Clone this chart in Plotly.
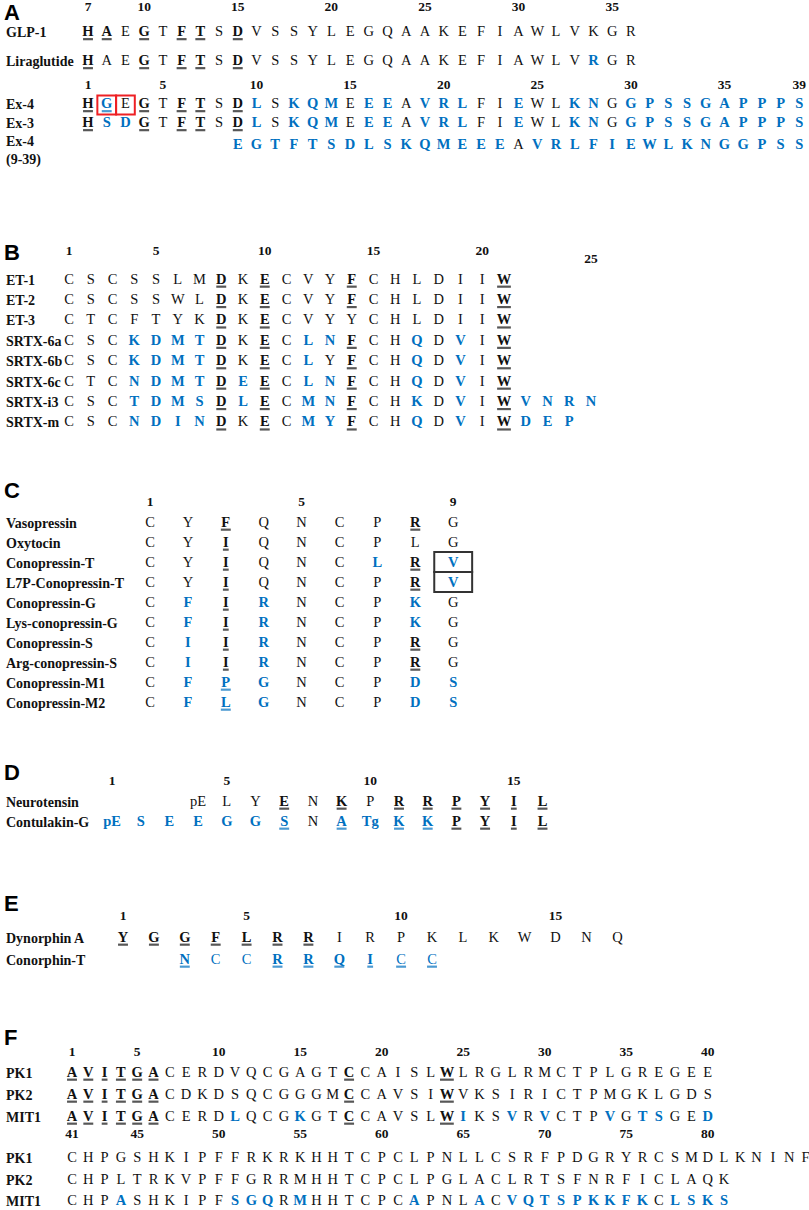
import plotly.graph_objects as go

BLUE = "#0070C0"
INK = "#111111"
SERIF = "Liberation Serif, Times New Roman, serif"
SANS = "Liberation Sans Narrow, Liberation Sans, Arial, sans-serif"

# ---------------- data ----------------
# residue numbers in key (underlined) / var (blue) / thin (blue, not bold)

# A - GLP-1 numbering (H = 7)
A1_NAMES = ["GLP-1", "Liraglutide"]
A1_SEQS = ["HAEGTFTSDVSSYLEGQAAKEFIAWLVKGR", "HAEGTFTSDVSSYLEGQAAKEFIAWLVRGR"]
A1_START = [7, 7]
A1_KEY = [[7, 8, 10, 12, 13, 15], [7, 10, 12, 13, 15]]
A1_VAR = [[], [34]]
A1_NUMS = [7, 10, 15, 20, 25, 30, 35]

# A - exendin numbering
A2_NAMES = ["Ex-4", "Ex-3", "Ex-4<br>(9-39)"]
A2_SEQS = ["HGEGTFTSDLSKQMEEEAVRLFIEWLKNGGPSSGAPPPS",
           "HSDGTFTSDLSKQMEEEAVRLFIEWLKNGGPSSGAPPPS",
           "EGTFTSDLSKQMEEEAVRLFIEWLKNGGPSS"]
A2_START = [1, 1, 9]
A2_KEY = [[1, 2, 4, 6, 7, 9], [1, 4, 6, 7, 9], []]
A2_VAR = [[2, 10, 12, 13, 14, 16, 17, 19, 20, 21, 24, 27, 28] + list(range(30, 40)),
          [2, 3, 10, 12, 13, 14, 16, 17, 19, 20, 21, 24, 27, 28] + list(range(30, 40)),
          [n for n in range(9, 40) if n != 24]]
A2_NUMS = [1, 5, 10, 15, 20, 25, 30, 35, 39]
A2_BOXED = [(0, 2), (0, 3)]  # (row, residue)

# B - endothelins / sarafotoxins
B_NAMES = ["ET-1", "ET-2", "ET-3", "SRTX-6a", "SRTX-6b", "SRTX-6c", "SRTX-i3", "SRTX-m"]
B_SEQS = ["CSCSSLMDKECVYFCHLDIIW",
          "CSCSSWLDKECVYFCHLDIIW",
          "CTCFTYKDKECVYYCHLDIIW",
          "CSCKDMTDKECLNFCHQDVIW",
          "CSCKDMTDKECLYFCHQDVIW",
          "CTCNDMTDEECLNFCHQDVIW",
          "CSCTDMSDLECMNFCHKDVIWVNRN",
          "CSCNDINDKECMYFCHQDVIWDEP"]
B_START = [1] * 8
B_KEY = [[8, 10, 14, 21], [8, 10, 14, 21], [8, 10, 21]] + [[8, 10, 14, 21]] * 5
B_VAR = [[], [], [],
         [4, 5, 6, 7, 12, 13, 17, 19],
         [4, 5, 6, 7, 12, 17, 19],
         [4, 5, 6, 7, 9, 12, 13, 17, 19],
         [4, 5, 6, 7, 9, 12, 13, 17, 19, 22, 23, 24, 25],
         [4, 5, 6, 7, 12, 13, 17, 19, 22, 23, 24]]
B_NUMS = [1, 5, 10, 15, 20]
B_NUMS_LOW = [25]

# C - vasopressin / oxytocin / conopressins
C_NAMES = ["Vasopressin", "Oxytocin", "Conopressin-T", "L7P-Conopressin-T",
           "Conopressin-G", "Lys-conopressin-G", "Conopressin-S",
           "Arg-conopressin-S", "Conopressin-M1", "Conopressin-M2"]
C_SEQS = ["CYFQNCPRG", "CYIQNCPLG", "CYIQNCLRV", "CYIQNCPRV", "CFIRNCPKG",
          "CFIRNCPKG", "CIIRNCPRG", "CIIRNCPRG", "CFPGNCPDS", "CFLGNCPDS"]
C_START = [1] * 10
C_KEY = [[3, 8], [3], [3, 8], [3, 8], [3], [3], [3, 8], [3, 8], [3], [3]]
C_VAR = [[], [], [7, 9], [9], [2, 4, 8], [2, 4, 8], [2, 4], [2, 4],
         [2, 3, 4, 8, 9], [2, 3, 4, 8, 9]]
C_NUMS = [1, 5, 9]
C_BOXED = [(2, 9), (3, 9)]

# D - neurotensin / contulakin-G
D_NAMES = ["Neurotensin", "Contulakin-G"]
D_SEQS = ["pE L Y E N K P R R P Y I L", "pE S E E G G S N A Tg K K P Y I L"]
D_START = [4, 1]
D_KEY = [[7, 9, 11, 12, 13, 14, 15, 16], [7, 9, 11, 12, 13, 14, 15, 16]]
D_VAR = [[], [1, 2, 3, 4, 5, 6, 7, 9, 10, 11, 12]]
D_NUMS = [1, 5, 10, 15]

# E - dynorphin A / conorphin-T
E_NAMES = ["Dynorphin A", "Conorphin-T"]
E_SEQS = ["YGGFLRRIRPKLKWDNQ", "NCCRRQICC"]
E_START = [1, 3]
E_KEY = [[1, 2, 3, 4, 5, 6, 7], [3, 6, 7, 8, 9, 10, 11]]
E_VAR = [[], list(range(3, 12))]
E_THIN = [[], [4, 5, 10, 11]]
E_NUMS = [1, 5, 10, 15]

# F - prokineticins / MIT1
F_NAMES = ["PK1", "PK2", "MIT1"]
F1_SEQS = ["AVITGACERDVQCGAGTCCAISLWLRGLRMCTPLGREGEE",
           "AVITGACDKDSQCGGGMCCAVSIWVKSIRICTPMGKLGDS",
           "AVITGACERDLQCGKGTCCAVSLWIKSVRVCTPVGTSGED"]
F1_START = [1, 1, 1]
F1_KEY = [[1, 2, 3, 4, 5, 6, 18, 24]] * 3
F1_VAR = [[], [], [11, 15, 25, 28, 30, 34, 36, 37, 40]]
F1_NUMS = [1, 5, 10, 15, 20, 25, 30, 35, 40]
F2_SEQS = ["CHPGSHKIPFFRKRKHHTCPCLPNLLCSRFPDGRYRCSMDLKNINF",
           "CHPLTRKVPFFGRRMHHTCPCLPGLACLRTSFNRFICLAQK",
           "CHPASHKIPFSGQRMHHTCPCAPNLACVQTSPKKFKCLSKS"]
F2_START = [41, 41, 41]
F2_KEY = [[], [], []]
F2_VAR = [[], [], [44, 51, 52, 53, 55, 62, 66, 68, 69, 70, 71, 72, 73, 74, 75, 76,
                   78, 79, 80, 81]]
F2_NUMS = [41, 45, 50, 55, 60, 65, 70, 75, 80]

# ---------------- layout ----------------
W, H = 809, 1210
# panel axis: (pixel x of column 1, pixels per column)
AXES = {"x2": (88, 18.72), "x3": (69, 21.75), "x4": (150, 37.9),
        "x5": (112, 28.7), "x6": (123, 30.9), "x7": (72, 16.3)}
PANEL_LETTERS = [("A", 12), ("B", 252), ("C", 490), ("D", 772), ("E", 903), ("F", 1037)]
RES_FS = 14.5
NUM_FS = 13.5
LABEL_FS = 14

BLOCKS = [
    dict(ax="x2", names=A1_NAMES, seqs=A1_SEQS, start=A1_START, key=A1_KEY, var=A1_VAR,
         nums=[(A1_NUMS, 8)], off=6, rows=[32.5, 61.5]),
    dict(ax="x2", names=A2_NAMES, seqs=A2_SEQS, start=A2_START, key=A2_KEY, var=A2_VAR,
         nums=[(A2_NUMS, 86)], off=0, rows=[104.5, 123.5, 145], label_rows=[104.5, 123.5, 151]),
    dict(ax="x3", names=B_NAMES, seqs=B_SEQS, start=B_START, key=B_KEY, var=B_VAR,
         nums=[(B_NUMS, 252), (B_NUMS_LOW, 260)], off=0,
         rows=[280 + 20.4 * i for i in range(8)]),
    dict(ax="x4", names=C_NAMES, seqs=C_SEQS, start=C_START, key=C_KEY, var=C_VAR,
         nums=[(C_NUMS, 503)], off=0, rows=[523 + 20 * i for i in range(10)]),
    dict(ax="x5", names=D_NAMES, seqs=D_SEQS, start=D_START, key=D_KEY, var=D_VAR,
         nums=[(D_NUMS, 782)], off=0, rows=[802, 822]),
    dict(ax="x6", names=E_NAMES, seqs=E_SEQS, start=E_START, key=E_KEY, var=E_VAR,
         thin=E_THIN, nums=[(E_NUMS, 917)], off=0, rows=[938, 960]),
    dict(ax="x7", names=F_NAMES, seqs=F1_SEQS, start=F1_START, key=F1_KEY, var=F1_VAR,
         nums=[(F1_NUMS, 1053)], off=0, rows=[1073, 1095, 1117]),
    dict(ax="x7", names=F_NAMES, seqs=F2_SEQS, start=F2_START, key=F2_KEY, var=F2_VAR,
         nums=[(F2_NUMS, 1135)], off=40, rows=[1158, 1180, 1201]),
]

CHAR_W = {"I": 0.42, "J": 0.5, "M": 0.94, "W": 1.0, "p": 0.56}


def tokens(s):
    return s.split() if " " in s else list(s)


fig = go.Figure()
annotations = []

for b in BLOCKS:
    fs = RES_FS
    thin_all = b.get("thin", [[]] * len(b["seqs"]))
    xs, ys, txt, colors = [], [], [], []
    ux, uy, ucol, usize = [], [], [], []
    for seq, st, key, var, thin, y in zip(b["seqs"], b["start"], b["key"], b["var"],
                                          thin_all, b["rows"]):
        for i, aa in enumerate(tokens(seq)):
            num = st + i
            col = num - b["off"]
            is_var, is_key = num in var, num in key
            bold = (is_var or is_key) and num not in thin
            c = BLUE if is_var else INK
            xs.append(col)
            ys.append(y)
            txt.append("<b>%s</b>" % aa if bold else aa)
            colors.append(c)
            if is_key:
                w = sum(CHAR_W.get(ch, 0.72) for ch in aa)
                ux.append(col)
                uy.append(y + 0.46 * fs)
                ucol.append(c)
                usize.append(w * fs * 0.95 / 1.4)
    fig.add_trace(go.Scatter(x=xs, y=ys, text=txt, mode="text", xaxis=b["ax"], yaxis="y",
                             textposition="middle center", hoverinfo="skip",
                             cliponaxis=False,
                             textfont=dict(family=SERIF, size=fs, color=colors)))
    if ux:
        fig.add_trace(go.Scatter(x=ux, y=uy, mode="markers", xaxis=b["ax"], yaxis="y",
                                 hoverinfo="skip", cliponaxis=False,
                                 marker=dict(symbol="line-ew", size=usize,
                                             line=dict(width=2.2, color=ucol))))
    for nums, ny in b["nums"]:
        fig.add_trace(go.Scatter(x=[n - b["off"] for n in nums], y=[ny] * len(nums),
                                 text=["<b>%d</b>" % n for n in nums], mode="text",
                                 xaxis=b["ax"], yaxis="y", hoverinfo="skip",
                                 textposition="middle center", cliponaxis=False,
                                 textfont=dict(family=SERIF, size=NUM_FS, color=INK)))
    label_rows = b.get("label_rows", b["rows"])
    for name, ly in zip(b["names"], label_rows):
        annotations.append(dict(text="<b>%s</b>" % name, x=4 / W, xref="paper", y=ly,
                                yref="y", xanchor="left", yanchor="middle",
                                showarrow=False, align="left",
                                font=dict(family=SERIF, size=LABEL_FS, color=INK)))

for letter, ly in PANEL_LETTERS:
    annotations.append(dict(text="<b>%s</b>" % letter, x=2 / W, xref="paper", y=ly,
                            yref="y", xanchor="left", yanchor="middle", showarrow=False,
                            font=dict(family=SANS, size=22, color="black")))

# boxes around highlighted cells
shapes = []
for r, n in A2_BOXED:
    y = BLOCKS[1]["rows"][r]
    shapes.append(dict(type="rect", xref="x2", yref="y", x0=n - 0.5, x1=n + 0.5,
                       y0=y - 9, y1=y + 10, line=dict(color="#ee2024", width=2)))
for r, n in C_BOXED:
    y = BLOCKS[3]["rows"][r]
    shapes.append(dict(type="rect", xref="x4", yref="y", x0=n - 0.5, x1=n + 0.5,
                       y0=y - 11, y1=y + 9, line=dict(color="#333333", width=2)))

layout_axes = dict(
    xaxis=dict(range=[0, W], visible=False, fixedrange=True),
    yaxis=dict(range=[H, 0], visible=False, fixedrange=True),
)
for name, (x0, step) in AXES.items():
    layout_axes["xaxis" + name[1:]] = dict(range=[1 - x0 / step, 1 + (W - x0) / step],
                                           overlaying="x", anchor="y", visible=False,
                                           fixedrange=True)

fig.update_layout(width=W, height=H, margin=dict(l=0, r=0, t=0, b=0),
                  paper_bgcolor="white", plot_bgcolor="rgba(0,0,0,0)", showlegend=False,
                  annotations=annotations, shapes=shapes, **layout_axes)

fig.write_html("out.html", config={"displayModeBar": False},
               post_script="document.body.style.margin = '0';")
